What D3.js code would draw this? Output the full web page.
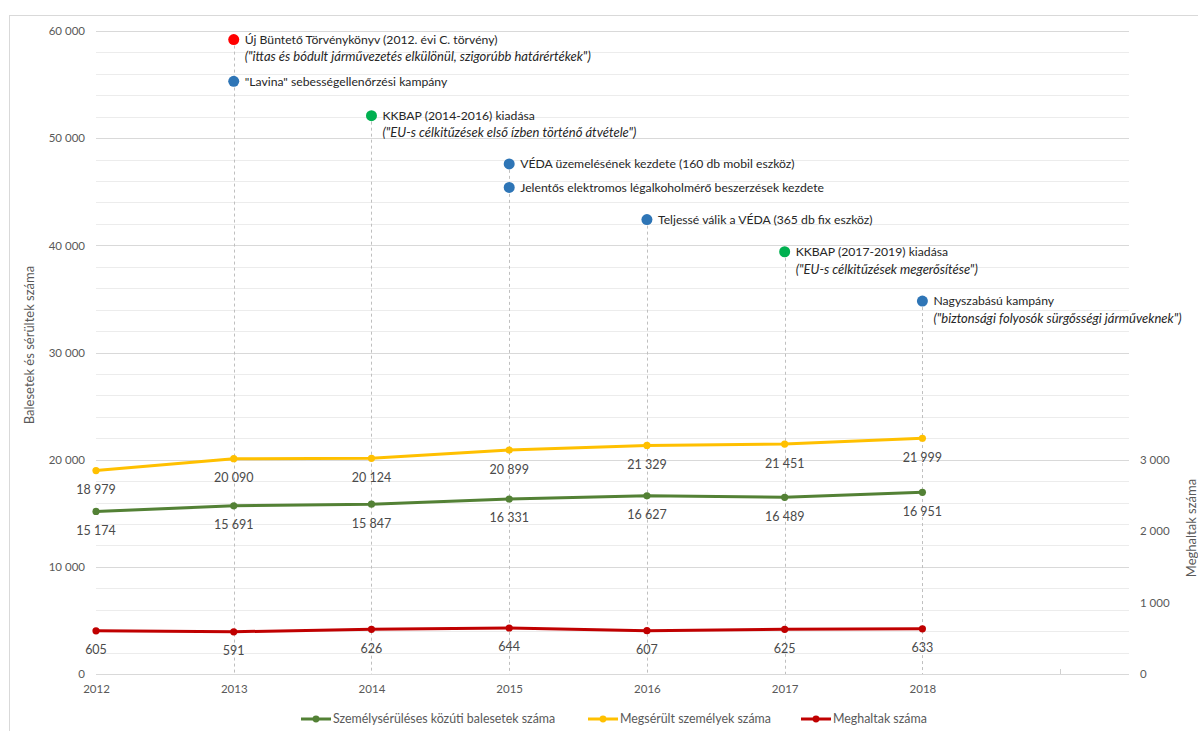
<!DOCTYPE html>
<html>
<head>
<meta charset="utf-8">
<script src="https://cdn.jsdelivr.net/npm/d3@7"></script>
<style>
  html, body { margin: 0; padding: 0; background: #ffffff; }
  svg { display: block; font-family: "Lato", "Open Sans", sans-serif; }
</style>
</head>
<body>
<svg id="chart" width="1198" height="731"></svg>
<script>
// Years on the category axis
const years = [2012, 2013, 2014, 2015, 2016, 2017, 2018];

// Series values
const injuryAccidents = [15174, 15691, 15847, 16331, 16627, 16489, 16951];
const injuredPersons  = [18979, 20090, 20124, 20899, 21329, 21451, 21999];
const fatalities      = [605, 591, 626, 644, 607, 625, 633];

// Axis ticks
const leftTicks  = [0, 10000, 20000, 30000, 40000, 50000, 60000];
const rightTicks = [0, 1000, 2000, 3000];
const xTickYears = [2012, 2013, 2014, 2015, 2016, 2017, 2018];

// Policy milestones (placed on the left scale)
const eventYears  = [2013, 2013, 2014, 2015, 2015, 2016, 2017, 2018];
const eventLevels = [59200, 55300, 52100, 47600, 45400, 42400, 39400, 34800];
const eventKinds  = ["law", "enforce", "plan", "enforce", "enforce", "enforce", "plan", "enforce"];
const eventTitles = [
  "Új Büntető Törvénykönyv (2012. évi C. törvény)",
  "\"Lavina\" sebességellenőrzési kampány",
  "KKBAP (2014-2016) kiadása",
  "VÉDA üzemelésének kezdete (160 db mobil eszköz)",
  "Jelentős elektromos légalkoholmérő beszerzések kezdete",
  "Teljessé válik a VÉDA (365 db fix eszköz)",
  "KKBAP (2017-2019) kiadása",
  "Nagyszabású kampány"
];
const eventNotes = [
  "(\"ittas és bódult járművezetés elkülönül, szigorúbb határértékek\")",
  "",
  "(\"EU-s célkitűzések első ízben történő átvétele\")",
  "",
  "",
  "",
  "(\"EU-s célkitűzések megerősítése\")",
  "(\"biztonsági folyosók sürgősségi járműveknek\")"
];

const seriesNames = ["Személysérüléses közúti balesetek száma", "Megsérült személyek száma", "Meghaltak száma"];
const seriesColors = ["#538135", "#ffc000", "#c00000"];
const kindColors = { law: "#ff0000", enforce: "#2e75b6", plan: "#00b050" };

const svg = d3.select("#chart");
const huLocale = d3.formatLocale({ decimal: ",", thousands: "\u00a0", grouping: [3], currency: ["", ""] });
const fmt = huLocale.format(",d");

const plot = { left: 96, right: 1129, top: 31, bottom: 674 };

const x = d3.scaleLinear().domain([2012, 2019.5]).range([plot.left, plot.right]);
const yLeft = d3.scaleLinear().domain([0, 60000]).range([plot.bottom, plot.top]);
const yRight = d3.scaleLinear().domain([0, 9000]).range([plot.bottom, plot.top]);

// Outer chart frame
svg.append("rect")
  .attr("x", 9.5).attr("y", 15.5).attr("width", 1196).attr("height", 730)
  .attr("fill", "none").attr("stroke", "#d9d9d9");

// Horizontal gridlines: minor every 2000, major every 10000
const gridVals = d3.range(2000, 60001, 2000);
svg.append("g").selectAll("line").data(gridVals).join("line")
  .attr("x1", plot.left).attr("x2", plot.right)
  .attr("y1", d => Math.round(yLeft(d)) + 0.5).attr("y2", d => Math.round(yLeft(d)) + 0.5)
  .attr("stroke", d => d % 10000 === 0 ? "#d9d9d9" : "#ececec")
  .attr("stroke-width", 1);

// Category axis baseline and the trailing tick mark
svg.append("line")
  .attr("x1", plot.left).attr("x2", plot.right)
  .attr("y1", plot.bottom + 0.5).attr("y2", plot.bottom + 0.5)
  .attr("stroke", "#d9d9d9");
svg.append("line")
  .attr("x1", Math.round(x(2019)) + 0.5).attr("x2", Math.round(x(2019)) + 0.5)
  .attr("y1", plot.bottom - 5).attr("y2", plot.bottom)
  .attr("stroke", "#d0d0d0");

// Left axis
const leftAxis = d3.axisLeft(yLeft).tickValues(leftTicks).tickFormat(fmt).tickSize(0).tickPadding(0);
const gL = svg.append("g").attr("transform", `translate(${plot.left - 11},0)`).call(leftAxis);
gL.select(".domain").remove();
gL.selectAll("text").attr("fill", "#595959").style("font-size", "11.5px").style("font-family", "Lato");

// Right axis
const rightAxis = d3.axisRight(yRight).tickValues(rightTicks).tickFormat(fmt).tickSize(0).tickPadding(0);
const gR = svg.append("g").attr("transform", `translate(1140,0)`).call(rightAxis);
gR.select(".domain").remove();
gR.selectAll("text").attr("fill", "#595959").style("font-size", "11.5px").style("font-family", "Lato");

// Bottom axis labels
const bottomAxis = d3.axisBottom(x).tickValues(xTickYears).tickFormat(d3.format("d")).tickSize(0).tickPadding(0);
const gB = svg.append("g").attr("transform", `translate(0,${plot.bottom + 11})`).call(bottomAxis);
gB.select(".domain").remove();
gB.selectAll("text").attr("fill", "#595959").style("font-size", "11.5px").style("font-family", "Lato");

// Axis titles
svg.append("text")
  .attr("transform", `translate(34,345) rotate(-90)`)
  .attr("text-anchor", "middle")
  .attr("fill", "#595959").style("font-size", "13px")
  .text("Balesetek és sérültek száma");
svg.append("text")
  .attr("transform", `translate(1196,528) rotate(-90)`)
  .attr("text-anchor", "middle")
  .attr("fill", "#595959").style("font-size", "13px")
  .text("Meghaltak száma");

// Milestones: dashed drop lines from the highest marker of each year
const events = eventYears.map((yr, i) => ({
  year: yr, level: eventLevels[i], kind: eventKinds[i], title: eventTitles[i], note: eventNotes[i]
}));
const topByYear = d3.rollups(events, v => d3.max(v, e => e.level), e => e.year);
svg.append("g").selectAll("line").data(topByYear).join("line")
  .attr("x1", d => Math.round(x(d[0])) + 0.5).attr("x2", d => Math.round(x(d[0])) + 0.5)
  .attr("y1", d => yLeft(d[1])).attr("y2", plot.bottom)
  .attr("stroke", "#bfbfbf").attr("stroke-width", 1).attr("stroke-dasharray", "3,3");

// Series lines, markers and value labels
const series = [
  { values: injuryAccidents, scale: yLeft, color: seriesColors[0] },
  { values: injuredPersons,  scale: yLeft, color: seriesColors[1] },
  { values: fatalities,      scale: yRight, color: seriesColors[2] }
];
series.forEach(s => {
  const pts = years.map((yr, i) => ({ year: yr, value: s.values[i] }));
  const line = d3.line().x(d => x(d.year)).y(d => s.scale(d.value));
  const g = svg.append("g");
  g.append("path").datum(pts)
    .attr("d", line).attr("fill", "none")
    .attr("stroke", s.color).attr("stroke-width", 3).attr("stroke-linejoin", "round");
  g.selectAll("circle").data(pts).join("circle")
    .attr("cx", d => x(d.year)).attr("cy", d => s.scale(d.value)).attr("r", 3.6)
    .attr("fill", s.color);
  g.selectAll("text").data(pts).join("text")
    .attr("x", d => x(d.year)).attr("y", d => s.scale(d.value) + 23.5)
    .attr("text-anchor", "middle")
    .attr("fill", "#4a4a4a").style("font-size", "12.5px")
    .text(d => fmt(d.value));
});

// Milestone markers and captions
const ev = svg.append("g").selectAll("g").data(events).join("g")
  .attr("transform", d => `translate(${x(d.year)},${yLeft(d.level)})`);
ev.append("circle").attr("r", 5.5).attr("fill", d => kindColors[d.kind]);
ev.append("text")
  .attr("x", 11).attr("y", 4.3)
  .attr("fill", "#262626").style("font-size", "12.2px")
  .text(d => d.title);
ev.filter(d => d.note).append("text")
  .attr("x", 11).attr("y", 21.8)
  .attr("fill", "#262626").style("font-size", "13px").style("font-style", "italic")
  .text(d => d.note);

// Legend
const legendX = [301, 588, 801];
const legendY = 719;
const lg = svg.append("g").selectAll("g").data(seriesNames).join("g")
  .attr("transform", (d, i) => `translate(${legendX[i]},${legendY})`);
lg.append("line").attr("x1", 0).attr("x2", 30).attr("y1", 0).attr("y2", 0)
  .attr("stroke", (d, i) => seriesColors[i]).attr("stroke-width", 3);
lg.append("circle").attr("cx", 15).attr("cy", 0).attr("r", 3.4)
  .attr("fill", (d, i) => seriesColors[i]);
lg.append("text").attr("x", 32).attr("y", 4)
  .attr("fill", "#595959").style("font-size", "12.4px")
  .text(d => d);
</script>
</body>
</html>
